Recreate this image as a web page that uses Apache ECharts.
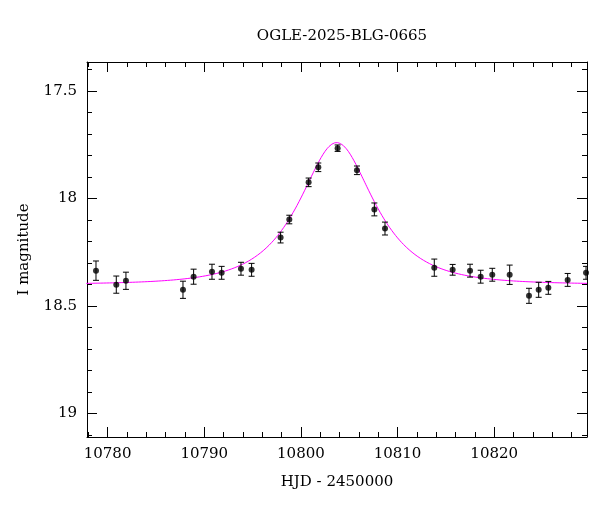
<!DOCTYPE html>
<html><head><meta charset="utf-8">
<script src="https://cdn.jsdelivr.net/npm/echarts@6/dist/echarts.min.js"></script>
<style>html,body{margin:0;padding:0;background:#fff}#c{width:600px;height:512px}</style>
</head><body><div id="c"></div>
<script>
var hjd = [10778.8,10780.9,10781.9,10787.8,10788.9,10790.8,10791.8,10793.8,10794.9,10797.9,10798.8,10800.8,10801.8,10803.8,10805.8,10807.6,10808.7,10813.8,10815.7,10817.5,10818.6,10819.8,10821.6,10823.6,10824.6,10825.6,10827.6,10829.5];
var mag = [18.336,18.401,18.383,18.425,18.364,18.341,18.346,18.327,18.332,18.182,18.098,17.925,17.855,17.766,17.869,18.051,18.14,18.322,18.332,18.336,18.364,18.355,18.355,18.453,18.425,18.416,18.379,18.346];
var err = [0.045,0.04,0.04,0.04,0.035,0.035,0.03,0.03,0.03,0.025,0.02,0.02,0.02,0.015,0.02,0.03,0.03,0.04,0.025,0.03,0.03,0.03,0.045,0.035,0.035,0.03,0.03,0.03];
// Paczynski model parameters
var model = {t0:10803.7, tE:6.0, u0:0.62, I0:18.40, fs:1.0};
var xMajor = [10780,10790,10800,10810,10820];
var xMinor = [10778,10782,10784,10786,10788,10792,10794,10796,10798,10802,10804,10806,10808,10812,10814,10816,10818,10822,10824,10826,10828];
var yMajor = [17.5,18,18.5,19];
var yMinor = [17.4,17.6,17.7,17.8,17.9,18.1,18.2,18.3,18.4,18.6,18.7,18.8,18.9,19.1];

var curve = [];
for (var t = 10777.8; t <= 10829.7; t += 0.1) {
  var tau = (t - model.t0) / model.tE, u = Math.sqrt(tau*tau + model.u0*model.u0);
  var A = (u*u + 2) / (u * Math.sqrt(u*u + 4));
  curve.push([t, model.I0 - 2.5*Math.log10(1 - model.fs + model.fs*A)]);
}
var XMIN = 10777.87, XMAX = 10829.6, YMIN = 17.365, YMAX = 19.11;
var font = 'DejaVu Serif';
function xa(pos, vals, len, labels, line) {
  return {type:'value', min:XMIN, max:XMAX, position:pos,
    axisLine:{show:line, lineStyle:{color:'#000', width:1}},
    axisTick:{show:true, inside:true, length:len, customValues:vals, lineStyle:{color:'#000'}},
    axisLabel:{show:labels, customValues:vals, color:'#000', fontFamily:font, fontSize:15, margin:10,
      formatter:function(v){return String(v);}},
    splitLine:{show:false},
    name: labels ? 'HJD - 2450000' : '', nameLocation:'middle', nameGap:38,
    nameTextStyle:{color:'#000', fontFamily:font, fontSize:15}};
}
function ya(pos, vals, len, labels, line) {
  return {type:'value', min:YMIN, max:YMAX, inverse:true, position:pos,
    axisLine:{show:line, lineStyle:{color:'#000', width:1}},
    axisTick:{show:true, inside:true, length:len, customValues:vals, lineStyle:{color:'#000'}},
    axisLabel:{show:labels, customValues:vals, color:'#000', fontFamily:font, fontSize:15, margin:10,
      formatter:function(v){return String(v);}},
    splitLine:{show:false},
    name: labels ? 'I magnitude' : '', nameLocation:'middle', nameGap:55,
    nameTextStyle:{color:'#000', fontFamily:font, fontSize:15}};
}
var chart = echarts.init(document.getElementById('c'));
chart.setOption({
  animation:false,
  title:{text:'OGLE-2025-BLG-0665', left:337, top:24, textAlign:'center',
    textStyle:{color:'#000', fontFamily:font, fontSize:15, fontWeight:'normal'}},
  grid:{left:87, right:13, top:62, bottom:75},
  xAxis:[xa('bottom',xMajor,10,true,true), xa('bottom',xMinor,5,false,false),
         xa('top',xMajor,10,false,true), xa('top',xMinor,5,false,false)],
  yAxis:[ya('left',yMajor,10,true,true), ya('left',yMinor,5,false,false),
         ya('right',yMajor,10,false,true), ya('right',yMinor,5,false,false)],
  series:[
    {type:'line', data:curve, showSymbol:false, lineStyle:{color:'#ff00ff', width:1}, clip:true, z:1},
    {type:'custom', data:hjd.map(function(t,i){return [t, mag[i]-err[i], mag[i]+err[i]];}), z:2, clip:true,
     renderItem:function(p, api){
       var a = api.coord([api.value(0), api.value(1)]), b = api.coord([api.value(0), api.value(2)]);
       var s = {stroke:'#000', lineWidth:1};
       return {type:'group', children:[
         {type:'line', shape:{x1:a[0],y1:a[1],x2:b[0],y2:b[1]}, style:s},
         {type:'line', shape:{x1:a[0]-3,y1:a[1],x2:a[0]+3,y2:a[1]}, style:s},
         {type:'line', shape:{x1:b[0]-3,y1:b[1],x2:b[0]+3,y2:b[1]}, style:s}]};
     }},
    {type:'scatter', data:hjd.map(function(t,i){return [t, mag[i]];}), symbolSize:6, itemStyle:{color:'#000'}, z:3, clip:true}
  ]
});
</script></body></html>
